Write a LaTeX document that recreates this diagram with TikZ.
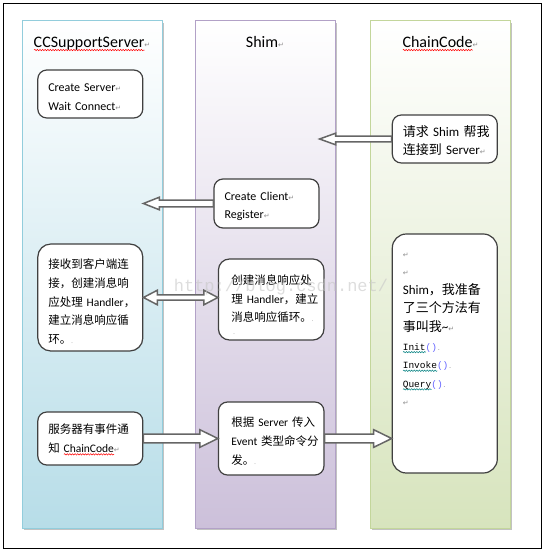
\documentclass[tikz,border=0pt]{standalone}
\usepackage{fontspec}
\setmainfont{Carlito}
\newfontfamily\cjk{Noto Sans CJK SC}
\newfontfamily\codefont{Liberation Mono}
\newfontfamily\symfont{DejaVu Sans}
\usetikzlibrary{calc,shadows,decorations.pathmorphing}

\definecolor{serverfill}{RGB}{183,221,232}
\definecolor{serverline}{RGB}{146,205,220}
\definecolor{shimfill}{RGB}{204,192,218}
\definecolor{shimline}{RGB}{178,161,199}
\definecolor{chainfill}{RGB}{215,228,189}
\definecolor{chainline}{RGB}{195,214,155}

\newlength{\wavewidth}
\newcommand{\wavy}[2]{\settowidth{\wavewidth}{#2}\rlap{\raisebox{-3pt}[0pt][0pt]{\tikz\draw[#1, sharp corners, line width=0.5pt,
  decorate, decoration={snake, amplitude=0.7pt, segment length=2.6pt}] (0pt,0pt) -- (\wavewidth,0pt);}}#2}
\newcommand{\redwave}[1]{\wavy{red}{#1}}
\newcommand{\greenwave}[1]{\wavy{green!50!blue}{#1}}
\newcommand{\retmark}{{\symfont\fontsize{7}{7}\selectfont\color{black!45}↵}}
\newcommand{\parmark}{{\fontsize{6}{6}\selectfont\color{black!45}.}}
\newcommand{\zh}[1]{{\cjk\fontsize{11.5}{18.8}\selectfont #1}}
\newcommand{\zhbig}[1]{{\cjk\fontsize{13}{18.6}\selectfont #1}}
\newcommand{\code}[1]{\mbox{\codefont\fontsize{9.5}{18.6}\selectfont #1}}

\newcommand{\fatarrow}[5]{%
  \draw[fatarrow] let \p1=(#1), \p2=(#2), \n1={sign(\x2-\x1)} in
    (\x1,{\y1+#3pt}) -- ({\x2-(\n1)*#5pt},{\y1+#3pt}) -- ({\x2-(\n1)*#5pt},{\y1+#4pt})
    -- (\x2,\y1) -- ({\x2-(\n1)*#5pt},{\y1-#4pt}) -- ({\x2-(\n1)*#5pt},{\y1-#3pt})
    -- (\x1,{\y1-#3pt}) -- cycle;}
\newcommand{\fatdarrow}[5]{%
  \draw[fatarrow] let \p1=(#1), \p2=(#2), \n1={sign(\x2-\x1)} in
    (\x1,\y1) -- ({\x1+(\n1)*#5pt},{\y1+#4pt}) -- ({\x1+(\n1)*#5pt},{\y1+#3pt})
    -- ({\x2-(\n1)*#5pt},{\y1+#3pt}) -- ({\x2-(\n1)*#5pt},{\y1+#4pt}) -- (\x2,\y1)
    -- ({\x2-(\n1)*#5pt},{\y1-#4pt}) -- ({\x2-(\n1)*#5pt},{\y1-#3pt})
    -- ({\x1+(\n1)*#5pt},{\y1-#3pt}) -- ({\x1+(\n1)*#5pt},{\y1-#4pt}) -- cycle;}

\tikzset{
  lane/.style={minimum width=140, minimum height=507, inner sep=0, line width=1pt,
    drop shadow={shadow xshift=1.5pt, shadow yshift=-2pt, fill=black!40, opacity=0.6}},
  lanetitle/.style={anchor=base, font=\fontsize{16}{16}\selectfont},
  box/.style={draw=black!75, line width=1.2pt, fill=white, rounded corners=9,
    align=left, text width=84, inner xsep=10.5, font=\fontsize{12}{18.5}\selectfont},
  zhbox/.style={box, font=\fontsize{11.5}{18.8}\selectfont},
  fatarrow/.style={draw=black!60, fill=white, line width=1.5pt}
}

\begin{document}
\begin{tikzpicture}[x=1pt, y=-1pt]
	\useasboundingbox (0,0) rectangle (545,553);
	\draw[line width=1pt] (3,4) rectangle (541,548);

	\node[lane, draw=serverline, top color=white, bottom color=serverfill] (server) at (92,274.5) {};
	\node[lane, draw=shimline, top color=white, bottom color=shimfill] (shim) at (265,274.5) {};
	\node[lane, draw=chainline, top color=white, bottom color=chainfill] (chaincode) at (440.5,274.5) {};
	\node[lanetitle] (servertitle) at ($(server.north)+(0,27.5)$) {\redwave{CCSupportServer}\retmark};
	\node[lanetitle] (shimtitle) at ($(shim.north)+(0,27.5)$) {Shim\retmark};
	\node[lanetitle] (chaintitle) at ($(chaincode.north)+(0,27.5)$) {\redwave{ChainCode}\retmark};

	\node[box, minimum height=48] (wait) at (90.3,94) {\rule{0pt}{14pt}Create Server\retmark\\Wait Connect\retmark};
	\node[box, minimum height=48, font=\fontsize{13}{18}\selectfont] (req) at (444.8,139)
		{\rule{0pt}{15pt}\zhbig{请求}~Shim~\zhbig{帮我}\\\zhbig{连接到}~Server\retmark};
	\node[box, minimum height=49] (client) at (266.5,203.5) {\rule{0pt}{14pt}Create Client\retmark\\Register\retmark};
	\node[zhbox, minimum height=107, rounded corners=13] (accept) at (90.3,297.5)
		{\mbox{\rule{0pt}{18pt}\zh{接收到客户端连}}\\\mbox{\zh{接，创建消息响}}\\\mbox{\zh{应处理}~Handler\zh{，}}\\\mbox{\zh{建立消息响应循}}\\\mbox{\zh{环。}\parmark}};
	\node[zhbox, minimum height=81, inner xsep=13, text width=79.5, rounded corners=11] (handler) at (271.2,299.5)
		{\mbox{\rule{0pt}{20pt}\zh{创建消息响应处}}\\\mbox{\zh{理}~Handler\zh{，建立}}\\\mbox{\zh{消息响应循环。}\parmark}\\[-6pt]\,\parmark};
	\node[box, minimum height=239, inner ysep=0, rounded corners=14, font=\fontsize{13}{18.6}\selectfont] (chain) at (444.8,353.5)
		{\rule{0pt}{23pt}\retmark\\ \retmark\\
		Shim\zhbig{，我准备}\\\zhbig{了三个方法有}\\\zhbig{事叫我}\textasciitilde\retmark\\
		\code{\greenwave{Init}\textcolor{blue!60}{()}\parmark}\\
		\code{\greenwave{Invoke}\textcolor{blue!60}{()}\parmark}\\
		\code{\greenwave{Query}\textcolor{blue!60}{()}\parmark}\\
		\retmark\rule[-67pt]{0pt}{67pt}};
	\node[zhbox, minimum height=53] (notify) at (90.3,438.5)
		{\mbox{\zh{服务器有事件通}}\\\mbox{\zh{知}~\redwave{ChainCode}\retmark}};
	\node[zhbox, minimum height=73, inner xsep=13, text width=79.5] (dispatch) at (271.2,438.5)
		{\mbox{\rule{0pt}{15pt}\zh{根据}~Server~\zh{传入}}\\\mbox{Event~\zh{类型命令分}}\\\mbox{\zh{发。}\parmark}};

	\fatarrow{req.west}{client.east |- req.west}{2.8}{5.8}{16}
	\fatarrow{client.west}{wait.east |- client.west}{3.3}{6.3}{16}
	\fatdarrow{accept.east}{handler.west}{2.6}{7.3}{14}
	\fatarrow{notify.east}{dispatch.west}{4.3}{8.8}{18}
	\fatarrow{dispatch.east}{chain.west |- dispatch.east}{4.3}{8.8}{18}

	\node[text=black!22, opacity=0.6, font=\codefont\fontsize{17}{17}\selectfont] (mark) at (281,287) {http://blog.csdn.net/};
\end{tikzpicture}
\end{document}
